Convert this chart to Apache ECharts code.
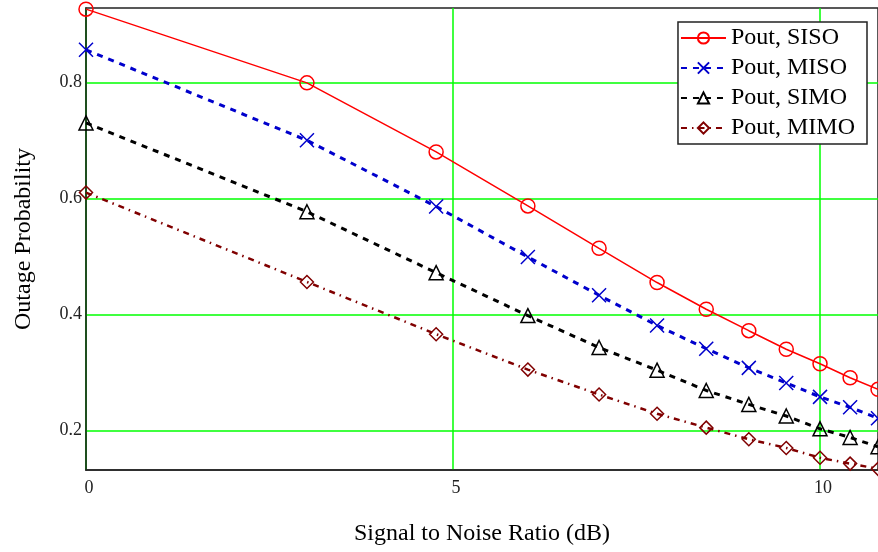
<!DOCTYPE html>
<html>
<head>
<meta charset="utf-8">
<script src="https://cdn.jsdelivr.net/npm/echarts@6/dist/echarts.min.js"></script>
<style>
  html, body { margin: 0; padding: 0; background: #fff; }
  #chart { width: 878px; height: 552px; }
</style>
</head>
<body>
<div id="chart"></div>
<script>
// SNR in dB
var snr = [0, 3.01, 4.77, 6.02, 6.99, 7.78, 8.45, 9.03, 9.54, 10, 10.41, 10.79];

var siso = [0.926, 0.799, 0.680, 0.587, 0.514, 0.455, 0.409, 0.372, 0.340, 0.315, 0.291, 0.271];
var miso = [0.856, 0.700, 0.586, 0.499, 0.433, 0.381, 0.341, 0.308, 0.282, 0.258, 0.240, 0.221];
var simo = [0.730, 0.577, 0.472, 0.398, 0.343, 0.304, 0.269, 0.245, 0.225, 0.203, 0.188, 0.172];
var mimo = [0.610, 0.456, 0.366, 0.305, 0.262, 0.229, 0.205, 0.185, 0.170, 0.153, 0.143, 0.134];

var xTicks = [0, 5, 10];
var yTicks = [0.2, 0.4, 0.6, 0.8];

var serif = "'Liberation Serif', 'Times New Roman', serif";

function pairs(ys) {
    return snr.map(function (x, i) { return [x, ys[i]]; });
}

var chart = echarts.init(document.getElementById('chart'));

var option = {
    animation: false,
    backgroundColor: '#fff',
    grid: {
        left: 86,
        top: 8,
        right: -2,
        bottom: 82,
        show: true,
        borderColor: '#222',
        borderWidth: 1.5
    },
    legend: {
        right: 11,
        top: 22,
        orient: 'vertical',
        backgroundColor: '#fff',
        borderColor: '#222',
        borderWidth: 1.5,
        padding: [3, 12, 3, 2],
        itemWidth: 45,
        itemHeight: 14,
        itemGap: 4,
        textStyle: { fontFamily: serif, fontSize: 24, color: '#000', lineHeight: 26 }
    },
    xAxis: {
        type: 'value',
        min: 0,
        max: 10.79,
        name: 'Signal to Noise Ratio (dB)',
        nameLocation: 'middle',
        nameGap: 52,
        nameTextStyle: { fontFamily: serif, fontSize: 24, color: '#000' },
        axisLine: { lineStyle: { color: '#222', width: 1.5 } },
        axisTick: { show: false, customValues: xTicks },
        axisLabel: { customValues: xTicks, fontFamily: serif, fontSize: 18, color: '#222', margin: 9, padding: [0, 0, 0, 6] },
        splitLine: { show: true, lineStyle: { color: '#00ff00', width: 1.5 } }
    },
    yAxis: {
        type: 'value',
        min: 0.132,
        max: 0.928,
        name: 'Outage Probability',
        nameLocation: 'middle',
        nameGap: 50,
        nameTextStyle: { fontFamily: serif, fontSize: 24, color: '#000' },
        axisLine: { lineStyle: { color: '#222', width: 1.5 } },
        axisTick: { show: false, customValues: yTicks },
        axisLabel: { customValues: yTicks, fontFamily: serif, fontSize: 18, color: '#222', margin: 4 },
        splitLine: { show: true, lineStyle: { color: '#00ff00', width: 1.5 } }
    },
    series: [
        {
            name: 'Pout, SISO',
            type: 'line',
            data: pairs(siso),
            symbol: 'circle',
            symbolSize: 14,
            lineStyle: { color: '#ff0000', width: 1.5 },
            itemStyle: { color: 'transparent', borderColor: '#ff0000', borderWidth: 1.5 }
        },
        {
            name: 'Pout, MISO',
            type: 'line',
            data: pairs(miso),
            symbol: 'path://M0,0L10,10M10,0L0,10',
            symbolSize: 14,
            lineStyle: { color: '#0000cc', width: 3, type: [6, 6] },
            itemStyle: { color: 'transparent', borderColor: '#0000cc', borderWidth: 1.5 }
        },
        {
            name: 'Pout, SIMO',
            type: 'line',
            data: pairs(simo),
            symbol: 'triangle',
            symbolSize: 14,
            lineStyle: { color: '#000', width: 3, type: [6, 6] },
            itemStyle: { color: 'transparent', borderColor: '#000', borderWidth: 1.5 }
        },
        {
            name: 'Pout, MIMO',
            type: 'line',
            data: pairs(mimo),
            symbol: 'diamond',
            symbolSize: 13,
            lineStyle: { color: '#800000', width: 2.5, type: [6, 5, 1.5, 5] },
            itemStyle: { color: 'transparent', borderColor: '#800000', borderWidth: 1.5 }
        }
    ]
};

chart.setOption(option);
</script>
</body>
</html>
